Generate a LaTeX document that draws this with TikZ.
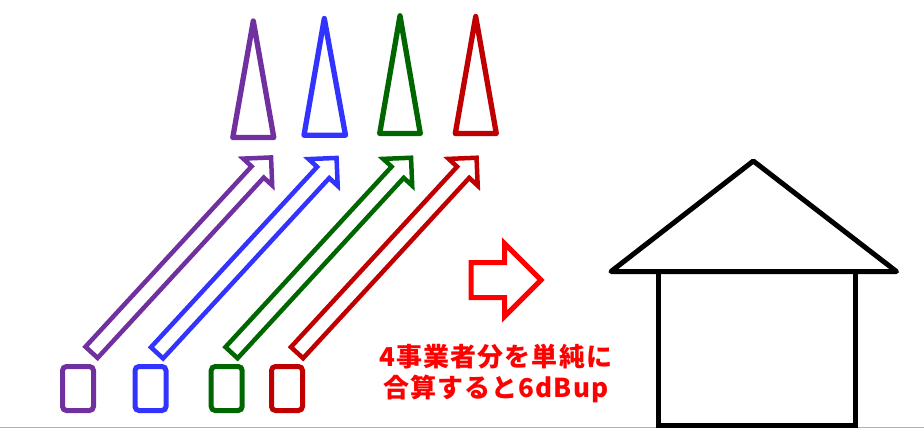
\documentclass[tikz,border=0pt]{standalone}
\usepackage{fontspec}
\newfontfamily\jpfont[LetterSpace=4]{Noto Sans CJK JP}
\usetikzlibrary{shapes.arrows}

\definecolor{vpurple}{RGB}{112,48,160}
\definecolor{vblue}{RGB}{51,51,255}
\definecolor{vgreen}{RGB}{0,102,0}
\definecolor{vred}{RGB}{192,0,0}

\tikzset{
    src/.style={draw, rounded corners=4pt, line width=5pt, minimum width=31pt, minimum height=44pt, inner sep=0pt},
    beam/.style={draw, single arrow, line width=4.5pt, inner sep=6pt, minimum width=35pt, minimum height=265pt, single arrow head extend=11.5pt, sloped, pos=0, anchor=tail},
    cone/.style={line width=5.3pt, line join=round}
}

\begin{document}
\begin{tikzpicture}[x=1pt,y=-1pt]
    \useasboundingbox (0,0) rectangle (924,429);
    % ground
    \draw[black!30, line width=1pt] (0,427.7) -- (924,427.7);

    % sources
    \node[src,vpurple] (s1) at (78,388.5) {};
    \node[src,vblue] (s2) at (150.5,388.5) {};
    \node[src,vgreen] (s3) at (226.7,388.5) {};
    \node[src,vred] (s4) at (287,388.5) {};

    % beams
    \coordinate (t1) at (90,354);
    \coordinate (h1) at (269.8,158.8);
    \coordinate (t2) at (155.5,354.5);
    \coordinate (h2) at (335.3,159.3);
    \coordinate (t3) at (230,354.3);
    \coordinate (h3) at (409.8,159.1);
    \coordinate (t4) at (295.5,354.3);
    \coordinate (h4) at (475.3,159.1);
    \path (t1) -- node[beam,vpurple] (b1) {} (h1);
    \path (t2) -- node[beam,vblue] (b2) {} (h2);
    \path (t3) -- node[beam,vgreen] (b3) {} (h3);
    \path (t4) -- node[beam,vred] (b4) {} (h4);

    % antennas
    \draw[cone,vpurple] (253.3,21) -- (273.8,137.5) -- (232.8,137.5) -- cycle;
    \draw[cone,vblue] (324.3,18.5) -- (345.5,135.2) -- (304,135.2) -- cycle;
    \draw[cone,vgreen] (400,15.8) -- (420.3,133.5) -- (379.7,133.5) -- cycle;
    \draw[cone,vred] (475.7,16.5) -- (496.3,133.5) -- (455.3,133.5) -- cycle;

    % result
    \node[draw=red, single arrow, line width=5pt, inner sep=15pt, minimum width=68pt, minimum height=70pt, single arrow head extend=19pt, anchor=tail] (next) at (468.5,280) {};
    \node[text=red, align=center, font=\jpfont\bfseries\fontsize{26}{31}\selectfont] (sum) at (496,373) {4事業者分を単純に\\合算すると6dBup};

    % house
    \draw[line width=5pt, line join=round] (611,271.5) -- (753.3,161) -- (896.5,271.5) -- cycle;
    \draw[line width=5pt] (658.5,271.5) rectangle (855,425.5);
\end{tikzpicture}
\end{document}
